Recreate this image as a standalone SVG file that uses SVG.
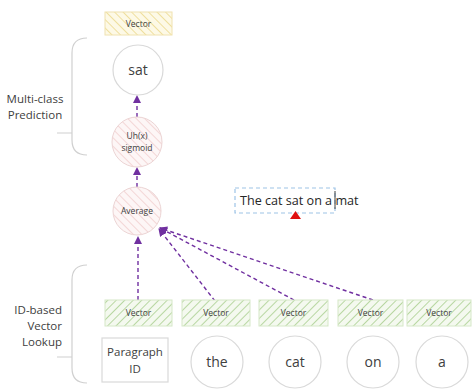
<svg xmlns="http://www.w3.org/2000/svg" width="472" height="390" viewBox="0 0 472 390">
<style>
  text { font-family: "Open Sans", "Liberation Sans", sans-serif; fill: #404040; text-anchor: middle; }
  .lbl { font-size: 11.5px; }
  .small { font-size: 8.5px; }
  .word { font-size: 14px; }
  .white { fill: #ffffff; stroke: #d9d9d9; stroke-width: 1.2; }
  .green { fill: url(#hGreen); stroke: #d6e8c8; stroke-width: 1; }
  .yellow { fill: url(#hYellow); stroke: #f0e2b0; stroke-width: 1; }
  .pink { fill: url(#hPink); stroke: #ecd4d4; stroke-width: 1; }
  .brace { fill: none; stroke: #d0d0d0; stroke-width: 1.2; }
  .conn { fill: none; stroke: #7030a0; stroke-width: 1.4; stroke-dasharray: 4 3; marker-end: url(#ah); }
</style>
<defs>
  <pattern id="hGreen" patternUnits="userSpaceOnUse" width="6" height="6" patternTransform="rotate(45)">
    <rect width="6" height="6" fill="#f4f9ef"/>
    <line x1="0" y1="0" x2="0" y2="6" stroke="#a9cf8f" stroke-width="1.6"/>
  </pattern>
  <pattern id="hYellow" patternUnits="userSpaceOnUse" width="6" height="6" patternTransform="rotate(-45)">
    <rect width="6" height="6" fill="#fdf9e6"/>
    <line x1="0" y1="0" x2="0" y2="6" stroke="#ecd98c" stroke-width="1.6"/>
  </pattern>
  <pattern id="hPink" patternUnits="userSpaceOnUse" width="6" height="6" patternTransform="rotate(-45)">
    <rect width="6" height="6" fill="#fdf6f6"/>
    <line x1="0" y1="0" x2="0" y2="6" stroke="#efc8c8" stroke-width="1.4"/>
  </pattern>
  <marker id="ah" markerWidth="8" markerHeight="8" refX="7" refY="4" orient="auto" markerUnits="userSpaceOnUse">
    <path d="M0,0 L8,4 L0,8 Z" fill="#7030a0"/>
  </marker>
</defs>

<g id="brace-prediction">
  <path class="brace" d="M87,38 Q72,38 72,53 L72,140 Q72,155 87,155 M57,133 L72,133"/>
  <text class="lbl" x="35" y="103">Multi-class</text>
  <text class="lbl" x="35" y="119">Prediction</text>
</g>
<g id="brace-lookup">
  <path class="brace" d="M87,265 Q72,265 72,280 L72,368 Q72,383 87,383 M57,357 L72,357"/>
  <text class="lbl" x="62" y="314" style="text-anchor:end">ID-based</text>
  <text class="lbl" x="62" y="330" style="text-anchor:end">Vector</text>
  <text class="lbl" x="62" y="346" style="text-anchor:end">Lookup</text>
</g>

<g id="connectors">
  <path class="conn" d="M137,117 L137,96"/>
  <path class="conn" d="M137,187 L137,168"/>
  <path class="conn" d="M138,300 L138,237"/>
  <path class="conn" d="M215,301 L159,229"/>
  <path class="conn" d="M294,300 L160,228"/>
  <path class="conn" d="M373,300 L160,228"/>
</g>

<g id="vector-top"><rect class="yellow" x="105" y="12" width="67" height="23"/><text class="small" x="138.5" y="26.5">Vector</text></g>
<g id="sat"><circle class="white" cx="138" cy="70" r="25"/><text class="word" x="138" y="75">sat</text></g>
<g id="sigmoid"><circle class="pink" cx="137" cy="142" r="25"/><text class="small" x="137" y="139">Uh(x)</text><text class="small" x="137" y="151">sigmoid</text></g>
<g id="average"><circle class="pink" cx="137" cy="211" r="24"/><text class="small" x="137" y="214">Average</text></g>

<g id="sentence">
  <rect x="235" y="188" width="100" height="25" fill="none" stroke="#9dc3e6" stroke-width="1.2" stroke-dasharray="4 3"/>
  <text x="240" y="205" style="text-anchor:start;font-size:12.6px;fill:#262626">The cat sat on a mat</text>
  <line x1="335" y1="191" x2="335" y2="209" stroke="#404040" stroke-width="1"/>
  <path d="M290,219 L301,219 L295.5,211 Z" fill="#e01010"/>
</g>

<g id="vec1"><rect class="green" x="105" y="300" width="67" height="26"/><text class="small" x="138.5" y="316">Vector</text></g>
<g id="vec2"><rect class="green" x="182" y="300" width="68" height="26"/><text class="small" x="216" y="316">Vector</text></g>
<g id="vec3"><rect class="green" x="259" y="300" width="69" height="26"/><text class="small" x="293.5" y="316">Vector</text></g>
<g id="vec4"><rect class="green" x="338" y="300" width="65" height="26"/><text class="small" x="370.5" y="316">Vector</text></g>
<g id="vec5"><rect class="green" x="407" y="300" width="64" height="26"/><text class="small" x="439" y="316">Vector</text></g>

<g id="paragraph-id"><rect class="white" x="102" y="338" width="66" height="44"/><text class="lbl" x="135" y="356">Paragraph</text><text class="lbl" x="135" y="373">ID</text></g>
<g id="the"><circle class="white" cx="217" cy="362" r="26"/><text class="word" x="217" y="367">the</text></g>
<g id="cat"><circle class="white" cx="295" cy="362" r="26"/><text class="word" x="295" y="367">cat</text></g>
<g id="on"><circle class="white" cx="373" cy="362" r="26"/><text class="word" x="373" y="367">on</text></g>
<g id="a"><circle class="white" cx="442" cy="362" r="26"/><text class="word" x="442" y="367">a</text></g>
</svg>
